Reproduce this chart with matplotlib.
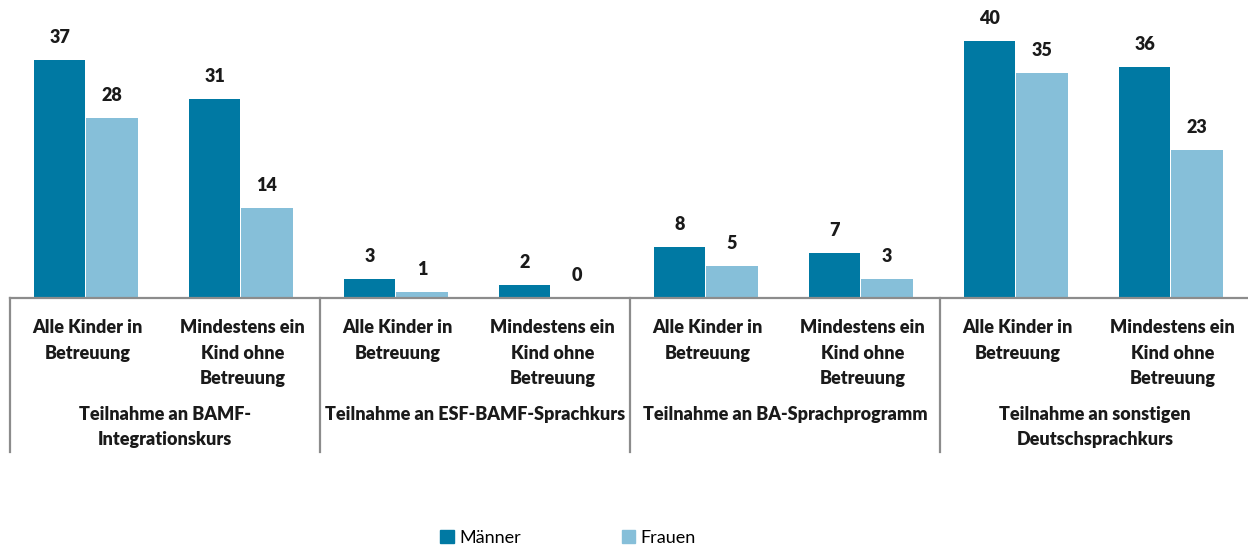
import numpy as np
import matplotlib.pyplot as plt
import matplotlib.transforms as mtransforms
from matplotlib.patches import Patch

plt.rcParams['font.family'] = ['Lato', 'DejaVu Sans']

# data
kategorien = ["Alle Kinder in\nBetreuung", "Mindestens ein\nKind ohne\nBetreuung"] * 4
gruppen = ["Teilnahme an BAMF-\nIntegrationskurs",
           "Teilnahme an ESF-BAMF-Sprachkurs",
           "Teilnahme an BA-Sprachprogramm",
           "Teilnahme an sonstigen\nDeutschsprachkurs"]
maenner = [37, 31, 3, 2, 8, 7, 40, 36]
frauen = [28, 14, 1, 0, 5, 3, 35, 23]

c_m = '#0079A3'
c_f = '#86BFD9'
wt = 'heavy'

W, H = 1248, 550
fig = plt.figure(figsize=(W / 100, H / 100), dpi=100)
ax = fig.add_axes([10 / W, (H - 298) / H, 1240 / W, 289 / H])

x = np.arange(len(maenner)) + 0.5
bw = 0.33
off = 0.168
ax.bar(x - off - 0.01, maenner, bw, color=c_m, zorder=2)
ax.bar(x + off - 0.01, frauen, bw, color=c_f, zorder=2)

for xi, m, f in zip(x, maenner, frauen):
    ax.annotate(str(m), (xi - off - 0.01, m), xytext=(0, 10), textcoords='offset points',
                ha='center', va='bottom', fontsize=13, fontweight=wt, color='#1a1a1a')
    ax.annotate(str(f), (xi + off - 0.01, f), xytext=(0, 10), textcoords='offset points',
                ha='center', va='bottom', fontsize=13, fontweight=wt, color='#1a1a1a')

ax.set_xlim(0, 8)
ax.set_ylim(0, 45)
for s in ['top', 'right', 'left']:
    ax.spines[s].set_visible(False)
ax.spines['bottom'].set_color('#8c8c8c')
ax.spines['bottom'].set_linewidth(1.6)
ax.set_xticks([])
ax.set_yticks([])

trans = mtransforms.blended_transform_factory(ax.transData, ax.transAxes)
for gx in [0, 2, 4, 6]:
    ax.plot([gx, gx], [0, -0.533], transform=trans, color='#8c8c8c', lw=1.6, clip_on=False)

for xi, lab in zip(x, kategorien):
    ax.text(xi, -0.074, lab, transform=trans, ha='center', va='top', fontsize=13,
            fontweight=wt, linespacing=1.6, color='#1a1a1a')
for gi, lab in enumerate(gruppen):
    ax.text(gi * 2 + 1, -0.373, lab, transform=trans, ha='center', va='top', fontsize=13,
            fontweight=wt, linespacing=1.6, color='#1a1a1a')

handles = [Patch(color=c_m, label='Männer'), Patch(color=c_f, label='Frauen')]
fig.legend(handles=handles, loc='center', bbox_to_anchor=(568 / W, 12 / H), ncol=2,
           frameon=False, fontsize=13, handlelength=0.75, handleheight=0.75,
           handletextpad=0.3, columnspacing=5.6)

fig.savefig('out.png', dpi=100)
